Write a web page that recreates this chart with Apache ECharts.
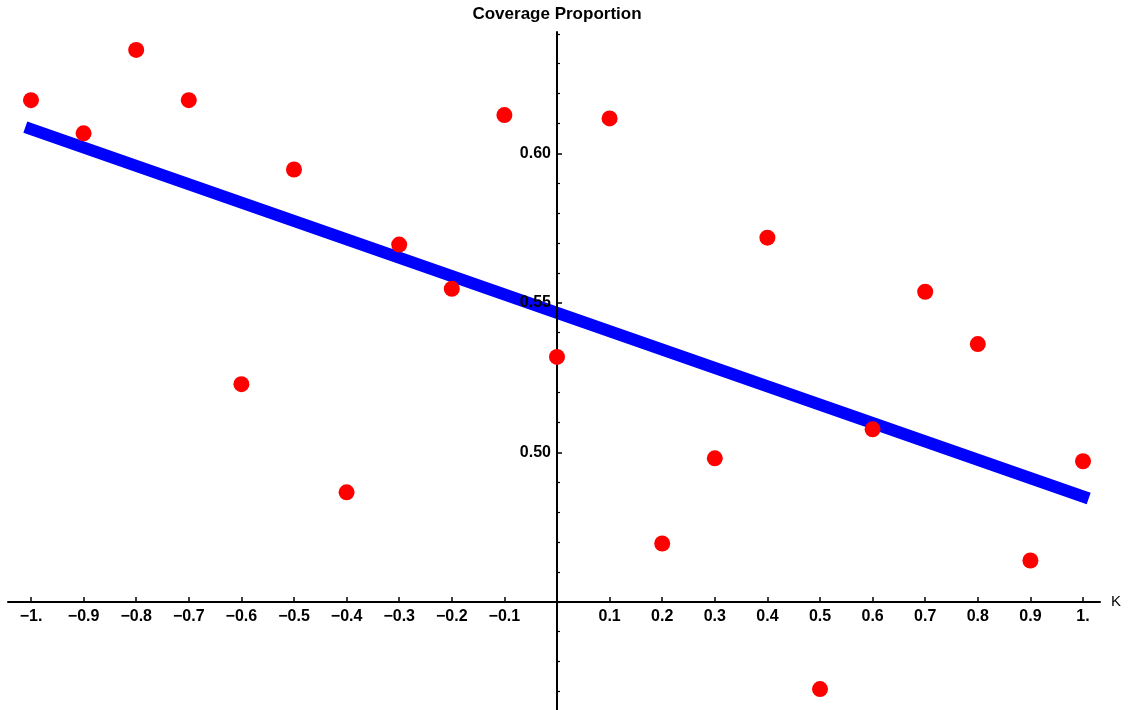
<!DOCTYPE html>
<html>
<head>
<meta charset="utf-8">
<script src="https://cdn.jsdelivr.net/npm/echarts@6/dist/echarts.min.js"></script>
<style>
  html, body { margin: 0; padding: 0; background: #fff; }
  #chart { width: 1135px; height: 710px; }
</style>
</head>
<body>
<div id="chart"></div>
<script>
// K values and the coverage proportion
const kValues = [-1.0, -0.9, -0.8, -0.7, -0.6, -0.5, -0.4, -0.3, -0.2, -0.1, 0.0,
                 0.1, 0.2, 0.3, 0.4, 0.5, 0.6, 0.7, 0.8, 0.9, 1.0];
const coverage = [0.6178, 0.6067, 0.6346, 0.6178, 0.5228, 0.5946, 0.4866, 0.5695, 0.5547, 0.6128, 0.5319,
                  0.6117, 0.4695, 0.4980, 0.5718, 0.4208, 0.5077, 0.5537, 0.5362, 0.4638, 0.4970];
// fitted line end points
const fitK = [-1.0, 1.0];
const fitCoverage = [0.6081, 0.4852];

const xTicks = [-1.0, -0.9, -0.8, -0.7, -0.6, -0.5, -0.4, -0.3, -0.2, -0.1,
                0.1, 0.2, 0.3, 0.4, 0.5, 0.6, 0.7, 0.8, 0.9, 1.0];
const yMajor = [0.50, 0.55, 0.60];
const yMinor = [0.42, 0.43, 0.44, 0.45, 0.46, 0.47, 0.48, 0.49, 0.51, 0.52, 0.53, 0.54,
                0.56, 0.57, 0.58, 0.59, 0.61, 0.62, 0.63, 0.64];
const xCross = 0.45;  // x axis drawn at this coverage
const yCross = 0;     // y axis drawn at this K

const xMin = -1.0437, xMax = 1.0323;
const yMin = 0.4138, yMax = 0.6406;
const gridLeft = 8, gridRight = 35, gridTop = 32, gridBottom = 0;

const chart = echarts.init(document.getElementById('chart'));
const gridW = 1135 - gridLeft - gridRight;
const gridH = 710 - gridTop - gridBottom;
// move the axes into the plot so they cross like in the original
const xOffset = -Math.round((xCross - yMin) / (yMax - yMin) * gridH);
const yOffset = -Math.round((yCross - xMin) / (xMax - xMin) * gridW);

const fam = 'Liberation Sans, Arial, sans-serif';
const labelFont = { color: '#000', fontFamily: fam, fontWeight: 'bold', fontSize: 16 };

function fmtX(v) {
  let s = Math.abs(Math.abs(v) - 1) < 1e-9 ? '1.' : Math.abs(v).toFixed(1);
  return v < 0 ? '\u2212' + s : s;
}

const option = {
  animation: false,
  backgroundColor: '#fff',
  grid: { left: gridLeft, right: gridRight, top: gridTop, bottom: gridBottom, outerBoundsMode: 'none', containLabel: false },
  xAxis: {
    type: 'value',
    min: xMin,
    max: xMax,
    offset: xOffset,
    name: 'K',
    nameLocation: 'end',
    nameGap: 11,
    nameTextStyle: { color: '#000', fontFamily: fam, fontSize: 15 },
    axisLine: { show: true, onZero: false, lineStyle: { color: '#000', width: 2 } },
    axisTick: { show: true, inside: true, length: 5, customValues: xTicks, lineStyle: { color: '#000', width: 1.5 } },
    axisLabel: Object.assign({ margin: 7, customValues: xTicks, formatter: fmtX }, labelFont),
    splitLine: { show: false }
  },
  yAxis: [
    {
      type: 'value',
      min: yMin,
      max: yMax,
      offset: yOffset,
      z: 2.5,
      name: 'Coverage Proportion',
      nameLocation: 'end',
      nameGap: 9,
      nameTextStyle: { color: '#000', fontFamily: fam, fontWeight: 'bold', fontSize: 17 },
      axisLine: { show: true, onZero: false, lineStyle: { color: '#000', width: 2 } },
      axisTick: { show: true, inside: true, length: 5, customValues: yMajor, lineStyle: { color: '#000', width: 1.5 } },
      axisLabel: Object.assign({ margin: 6, customValues: yMajor, formatter: v => v.toFixed(2) }, labelFont),
      splitLine: { show: false }
    },
    {
      type: 'value',
      min: yMin,
      max: yMax,
      position: 'left',
      offset: yOffset,
      axisLine: { show: false, onZero: false },
      axisTick: { show: true, inside: true, length: 3, customValues: yMinor, lineStyle: { color: '#000', width: 1.2 } },
      axisLabel: { show: false },
      splitLine: { show: false }
    }
  ],
  series: [
    {
      type: 'line',
      data: fitK.map((k, i) => [k, fitCoverage[i]]),
      symbol: 'none',
      lineStyle: { color: '#0000ff', width: 12, cap: 'square' },
      z: 2
    },
    {
      type: 'scatter',
      data: kValues.map((k, i) => [k, coverage[i]]),
      symbol: 'circle',
      symbolSize: 16,
      itemStyle: { color: '#ff0000', opacity: 1 },
      clip: false,
      z: 3
    }
  ]
};

chart.setOption(option);
</script>
</body>
</html>
